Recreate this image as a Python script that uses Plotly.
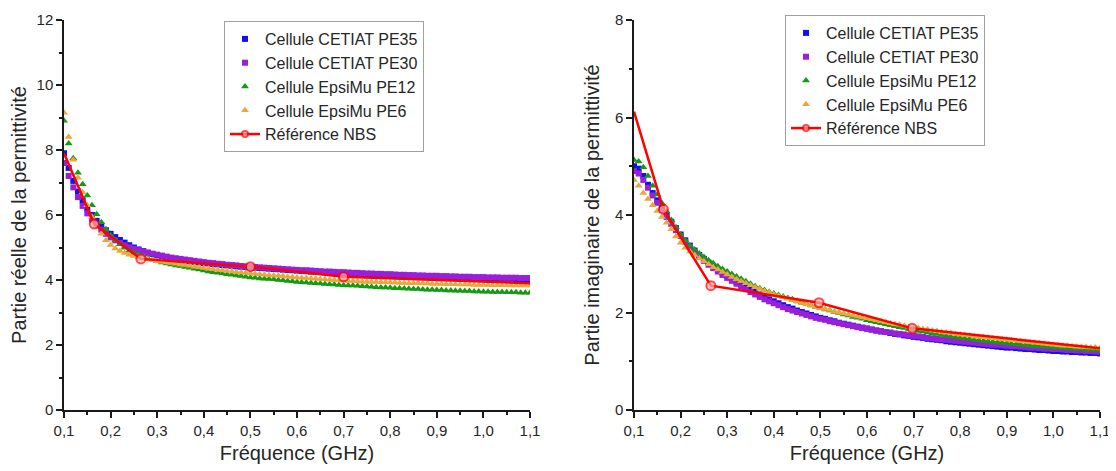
import plotly.graph_objects as go

# Frequencies (GHz) for measured series
freq = [round(0.10 + 0.01 * i, 2) for i in range(101)]

# ---- Real part of permittivity ----
re_pe35 = [7.9, 7.45, 7.05, 6.72, 6.45, 6.2, 6.0, 5.82, 5.67, 5.53,
           5.42, 5.32, 5.23, 5.15, 5.07, 5.0, 4.94, 4.89, 4.84, 4.80,
           4.76, 4.73, 4.70, 4.67, 4.64, 4.62, 4.60, 4.58, 4.56, 4.54,
           4.52, 4.51, 4.49, 4.48, 4.46, 4.45, 4.44, 4.42, 4.41, 4.40,
           4.39, 4.38, 4.37, 4.36, 4.35, 4.34, 4.33, 4.32, 4.31, 4.30,
           4.29, 4.28, 4.27, 4.26, 4.26, 4.25, 4.24, 4.23, 4.22, 4.22,
           4.21, 4.20, 4.20, 4.19, 4.18, 4.18, 4.17, 4.16, 4.16, 4.15,
           4.15, 4.14, 4.14, 4.13, 4.13, 4.12, 4.12, 4.11, 4.11, 4.10,
           4.10, 4.09, 4.09, 4.08, 4.08, 4.08, 4.07, 4.07, 4.06, 4.06,
           4.06, 4.05, 4.05, 4.05, 4.04, 4.04, 4.04, 4.03, 4.03, 4.03,
           4.02]
re_pe30 = [7.6, 7.2, 6.85, 6.55, 6.28, 6.05, 5.86, 5.69, 5.55, 5.42,
           5.31, 5.22, 5.14, 5.07, 5.01, 4.96, 4.92, 4.88, 4.84, 4.81,
           4.78, 4.75, 4.72, 4.69, 4.67, 4.65, 4.63, 4.61, 4.59, 4.57,
           4.55, 4.53, 4.52, 4.50, 4.49, 4.47, 4.46, 4.45, 4.43, 4.42,
           4.41, 4.40, 4.39, 4.38, 4.37, 4.36, 4.35, 4.34, 4.33, 4.32,
           4.31, 4.30, 4.30, 4.29, 4.28, 4.27, 4.26, 4.26, 4.25, 4.24,
           4.24, 4.23, 4.22, 4.22, 4.21, 4.20, 4.20, 4.19, 4.19, 4.18,
           4.18, 4.17, 4.16, 4.16, 4.15, 4.15, 4.14, 4.14, 4.13, 4.13,
           4.13, 4.12, 4.12, 4.11, 4.11, 4.10, 4.10, 4.10, 4.09, 4.09,
           4.09, 4.08, 4.08, 4.08, 4.07, 4.07, 4.07, 4.07, 4.06, 4.06,
           4.06]
re_pe12 = [8.9, 8.2, 7.75, 7.3, 6.95, 6.6, 6.3, 6.02, 5.78, 5.56,
           5.38, 5.23, 5.1, 4.99, 4.9, 4.83, 4.77, 4.72, 4.67, 4.62,
           4.58, 4.54, 4.51, 4.48, 4.45, 4.43, 4.40, 4.38, 4.35, 4.32,
           4.29, 4.26, 4.24, 4.22, 4.20, 4.18, 4.16, 4.14, 4.12, 4.10,
           4.08, 4.07, 4.05, 4.04, 4.03, 4.02, 4.00, 3.99, 3.97, 3.96,
           3.94, 3.93, 3.92, 3.91, 3.90, 3.89, 3.88, 3.87, 3.86, 3.85,
           3.84, 3.83, 3.83, 3.82, 3.81, 3.80, 3.79, 3.78, 3.77, 3.77,
           3.76, 3.75, 3.75, 3.74, 3.73, 3.72, 3.72, 3.71, 3.70, 3.70,
           3.69, 3.69, 3.68, 3.68, 3.67, 3.67, 3.66, 3.66, 3.65, 3.65,
           3.64, 3.64, 3.63, 3.63, 3.63, 3.62, 3.62, 3.62, 3.61, 3.61,
           3.61]
re_pe6 = [9.15, 8.4, 7.7, 7.15, 6.7, 6.3, 5.95, 5.65, 5.42, 5.22,
          5.08, 4.97, 4.89, 4.83, 4.78, 4.74, 4.70, 4.67, 4.64, 4.61,
          4.58, 4.56, 4.54, 4.52, 4.50, 4.48, 4.46, 4.44, 4.41, 4.39,
          4.37, 4.35, 4.33, 4.31, 4.30, 4.28, 4.26, 4.25, 4.23, 4.22,
          4.20, 4.19, 4.18, 4.16, 4.15, 4.14, 4.13, 4.12, 4.10, 4.09,
          4.08, 4.07, 4.06, 4.05, 4.04, 4.03, 4.02, 4.01, 4.00, 3.99,
          3.98, 3.97, 3.97, 3.96, 3.95, 3.95, 3.94, 3.94, 3.93, 3.93,
          3.92, 3.92, 3.91, 3.91, 3.90, 3.90, 3.90, 3.89, 3.89, 3.88,
          3.88, 3.88, 3.87, 3.87, 3.87, 3.86, 3.86, 3.86, 3.85, 3.85,
          3.85, 3.85, 3.84, 3.84, 3.84, 3.84, 3.83, 3.83, 3.83, 3.83,
          3.83]

# ---- Imaginary part of permittivity ----
im_pe35 = [5.0, 4.95, 4.8, 4.62, 4.45, 4.3, 4.15, 4.0, 3.86, 3.73,
           3.6, 3.48, 3.37, 3.27, 3.18, 3.1, 3.02, 2.95, 2.88, 2.81,
           2.75, 2.69, 2.63, 2.58, 2.52, 2.47, 2.42, 2.37, 2.32, 2.27,
           2.23, 2.19, 2.15, 2.11, 2.08, 2.04, 2.01, 1.98, 1.95, 1.92,
           1.89, 1.87, 1.84, 1.82, 1.79, 1.77, 1.75, 1.73, 1.71, 1.69,
           1.67, 1.65, 1.63, 1.61, 1.60, 1.58, 1.56, 1.55, 1.53, 1.52,
           1.50, 1.49, 1.48, 1.46, 1.45, 1.44, 1.43, 1.41, 1.40, 1.39,
           1.38, 1.37, 1.36, 1.35, 1.34, 1.33, 1.32, 1.31, 1.30, 1.29,
           1.28, 1.28, 1.27, 1.26, 1.25, 1.25, 1.24, 1.23, 1.23, 1.22,
           1.21, 1.21, 1.20, 1.20, 1.19, 1.19, 1.18, 1.18, 1.17, 1.17,
           1.16]
im_pe30 = [4.9, 4.85, 4.72, 4.56, 4.4, 4.25, 4.1, 3.96, 3.82, 3.69,
           3.57, 3.45, 3.34, 3.24, 3.14, 3.06, 2.98, 2.91, 2.84, 2.77,
           2.71, 2.65, 2.59, 2.53, 2.48, 2.42, 2.37, 2.32, 2.27, 2.23,
           2.19, 2.15, 2.11, 2.07, 2.04, 2.01, 1.98, 1.95, 1.92, 1.89,
           1.87, 1.85, 1.82, 1.80, 1.78, 1.76, 1.74, 1.72, 1.70, 1.68,
           1.67, 1.65, 1.63, 1.62, 1.60, 1.59, 1.57, 1.56, 1.55, 1.53,
           1.52, 1.51, 1.50, 1.48, 1.47, 1.46, 1.45, 1.44, 1.43, 1.42,
           1.41, 1.40, 1.39, 1.38, 1.37, 1.36, 1.35, 1.34, 1.34, 1.33,
           1.32, 1.31, 1.31, 1.30, 1.29, 1.28, 1.28, 1.27, 1.26, 1.26,
           1.25, 1.25, 1.24, 1.23, 1.23, 1.22, 1.22, 1.21, 1.21, 1.20,
           1.20]
im_pe12 = [5.13, 5.1, 4.98, 4.8, 4.6, 4.42, 4.24, 4.07, 3.9, 3.75,
           3.6, 3.48, 3.38, 3.29, 3.21, 3.14, 3.07, 3.01, 2.95, 2.89,
           2.84, 2.79, 2.74, 2.69, 2.64, 2.59, 2.54, 2.50, 2.46, 2.42,
           2.39, 2.36, 2.33, 2.30, 2.27, 2.24, 2.21, 2.18, 2.15, 2.12,
           2.09, 2.06, 2.04, 2.01, 1.99, 1.96, 1.94, 1.91, 1.89, 1.87,
           1.84, 1.82, 1.80, 1.78, 1.76, 1.74, 1.72, 1.70, 1.68, 1.66,
           1.64, 1.62, 1.61, 1.59, 1.57, 1.56, 1.54, 1.53, 1.51, 1.50,
           1.48, 1.47, 1.46, 1.44, 1.43, 1.42, 1.41, 1.40, 1.39, 1.38,
           1.37, 1.36, 1.35, 1.34, 1.33, 1.32, 1.31, 1.31, 1.30, 1.29,
           1.28, 1.28, 1.27, 1.26, 1.26, 1.25, 1.25, 1.24, 1.23, 1.23,
           1.22]
im_pe6 = [4.72, 4.6, 4.45, 4.33, 4.2, 4.08, 3.96, 3.84, 3.71, 3.56,
          3.43, 3.33, 3.25, 3.18, 3.11, 3.05, 2.99, 2.93, 2.88, 2.83,
          2.78, 2.73, 2.68, 2.64, 2.60, 2.56, 2.52, 2.48, 2.44, 2.41,
          2.37, 2.34, 2.31, 2.28, 2.25, 2.22, 2.19, 2.17, 2.14, 2.12,
          2.09, 2.07, 2.05, 2.02, 2.00, 1.98, 1.96, 1.94, 1.92, 1.90,
          1.88, 1.86, 1.84, 1.82, 1.80, 1.78, 1.76, 1.75, 1.73, 1.71,
          1.69, 1.68, 1.66, 1.65, 1.63, 1.62, 1.60, 1.59, 1.58, 1.56,
          1.55, 1.54, 1.53, 1.51, 1.50, 1.49, 1.48, 1.47, 1.46, 1.45,
          1.44, 1.43, 1.42, 1.41, 1.40, 1.39, 1.38, 1.37, 1.36, 1.35,
          1.34, 1.33, 1.32, 1.32, 1.31, 1.30, 1.29, 1.29, 1.28, 1.28,
          1.27]

# ---- NBS reference ----
nbs_freq_re = [0.10, 0.165, 0.265, 0.50, 0.70, 1.10]
nbs_re = [7.9, 5.72, 4.65, 4.41, 4.1, 3.9]
nbs_freq_im = [0.10, 0.163, 0.265, 0.497, 0.697, 1.10]
nbs_im = [6.12, 4.12, 2.55, 2.2, 1.675, 1.265]
nbs_marker_sizes = [0, 9, 9, 9, 9, 0]

names = ["Cellule CETIAT PE35", "Cellule CETIAT PE30",
         "Cellule EpsiMu PE12", "Cellule EpsiMu PE6"]
colors = ["#1010f0", "#9a1fd8", "#159a15", "#e8a83a"]
symbols = ["square", "square", "triangle-up", "triangle-up"]
sizes = [6, 6, 7, 7]

FONT = "Liberation Sans, Arial, sans-serif"
TXT = "#262626"
AX = "#1a1a1a"

fig = go.Figure()

series_re = [re_pe35, re_pe30, re_pe12, re_pe6]
series_im = [im_pe35, im_pe30, im_pe12, im_pe6]

for i in range(4):
    fig.add_trace(go.Scatter(
        x=freq, y=series_re[i], mode="markers", name=names[i],
        marker=dict(symbol=symbols[i], color=colors[i], size=sizes[i], line=dict(width=0)),
        xaxis="x", yaxis="y", legend="legend"))
fig.add_trace(go.Scatter(
    x=nbs_freq_re, y=nbs_re, mode="lines+markers", name="Référence NBS",
    line=dict(color="#ff0000", width=2.5),
    marker=dict(symbol="circle", color="#ffb0b0", size=nbs_marker_sizes,
                line=dict(color="#ff0000", width=2)),
    xaxis="x", yaxis="y", legend="legend"))

for i in range(4):
    fig.add_trace(go.Scatter(
        x=freq, y=series_im[i], mode="markers", name=names[i],
        marker=dict(symbol=symbols[i], color=colors[i], size=sizes[i], line=dict(width=0)),
        xaxis="x2", yaxis="y2", legend="legend2"))
fig.add_trace(go.Scatter(
    x=nbs_freq_im, y=nbs_im, mode="lines+markers", name="Référence NBS",
    line=dict(color="#ff0000", width=2.5),
    marker=dict(symbol="circle", color="#ffb0b0", size=nbs_marker_sizes,
                line=dict(color="#ff0000", width=2)),
    xaxis="x2", yaxis="y2", legend="legend2"))

# The page body has an 8px margin, so the figure is laid out in page
# coordinates minus 8px.
OFF = 8
W, H = 1116 - OFF, 471 - OFF
T, B = 0, 61
PH = H - T - B          # plot-area height in px
BOTTOM = 410 - OFF      # figure px of x-axis line
TOP = 20 - OFF          # figure px of top of y-axis
ydom = [0, (BOTTOM - TOP) / PH]


def px_x(page_x):
    return (page_x - OFF) / W


def px_y(page_y):
    return (BOTTOM - (page_y - OFF)) / PH


def xaxis_cfg(dom, anchor):
    return dict(domain=dom, anchor=anchor, range=[0.1, 1.1], dtick=0.1, tick0=0.1,
                tickformat=".1f", showline=True, linecolor=AX, linewidth=1.5,
                ticks="outside", ticklen=6, tickwidth=1.5, tickcolor=AX,
                minor=dict(ticks="outside", dtick=0.05, tick0=0.1, ticklen=3,
                           tickwidth=1.5, tickcolor=AX, showgrid=False),
                showgrid=False, zeroline=False, automargin=False,
                tickfont=dict(family=FONT, size=15, color=TXT),
                title=dict(text="Fréquence (GHz)", font=dict(family=FONT, size=20, color=TXT),
                           standoff=8))


def yaxis_cfg(rng, title, anchor, standoff):
    return dict(domain=ydom, anchor=anchor, range=rng, dtick=2, tick0=0,
                showline=True, linecolor=AX, linewidth=1.5,
                ticks="outside", ticklen=6, tickwidth=1.5, tickcolor=AX,
                minor=dict(ticks="outside", dtick=1, ticklen=3, tickwidth=1.5,
                           tickcolor=AX, showgrid=False),
                showgrid=False, zeroline=False, automargin=False,
                tickfont=dict(family=FONT, size=15, color=TXT),
                title=dict(text=title, font=dict(family=FONT, size=20, color=TXT),
                           standoff=standoff))


legend_common = dict(bgcolor="white", bordercolor="#a0a0a0", borderwidth=1,
                     font=dict(family=FONT, size=16, color=TXT),
                     xanchor="left", yanchor="top", tracegroupgap=0,
                     itemwidth=30)

fig.update_layout(
    width=W, height=H,
    margin=dict(l=0, r=0, t=T, b=B, autoexpand=False),
    paper_bgcolor="white", plot_bgcolor="white",
    separators=", ",
    xaxis=xaxis_cfg([px_x(64), px_x(530)], "y"),
    yaxis=yaxis_cfg([0, 12], "Partie réelle de la permittivité", "x", 6),
    xaxis2=xaxis_cfg([px_x(634), px_x(1100)], "y2"),
    yaxis2=yaxis_cfg([0, 8], "Partie imaginaire de la permittivité", "x2", 10),
    legend=dict(x=px_x(224), y=px_y(21), **legend_common),
    legend2=dict(x=px_x(785), y=px_y(15), **legend_common),
    showlegend=True,
)

fig.write_html("out.html")
